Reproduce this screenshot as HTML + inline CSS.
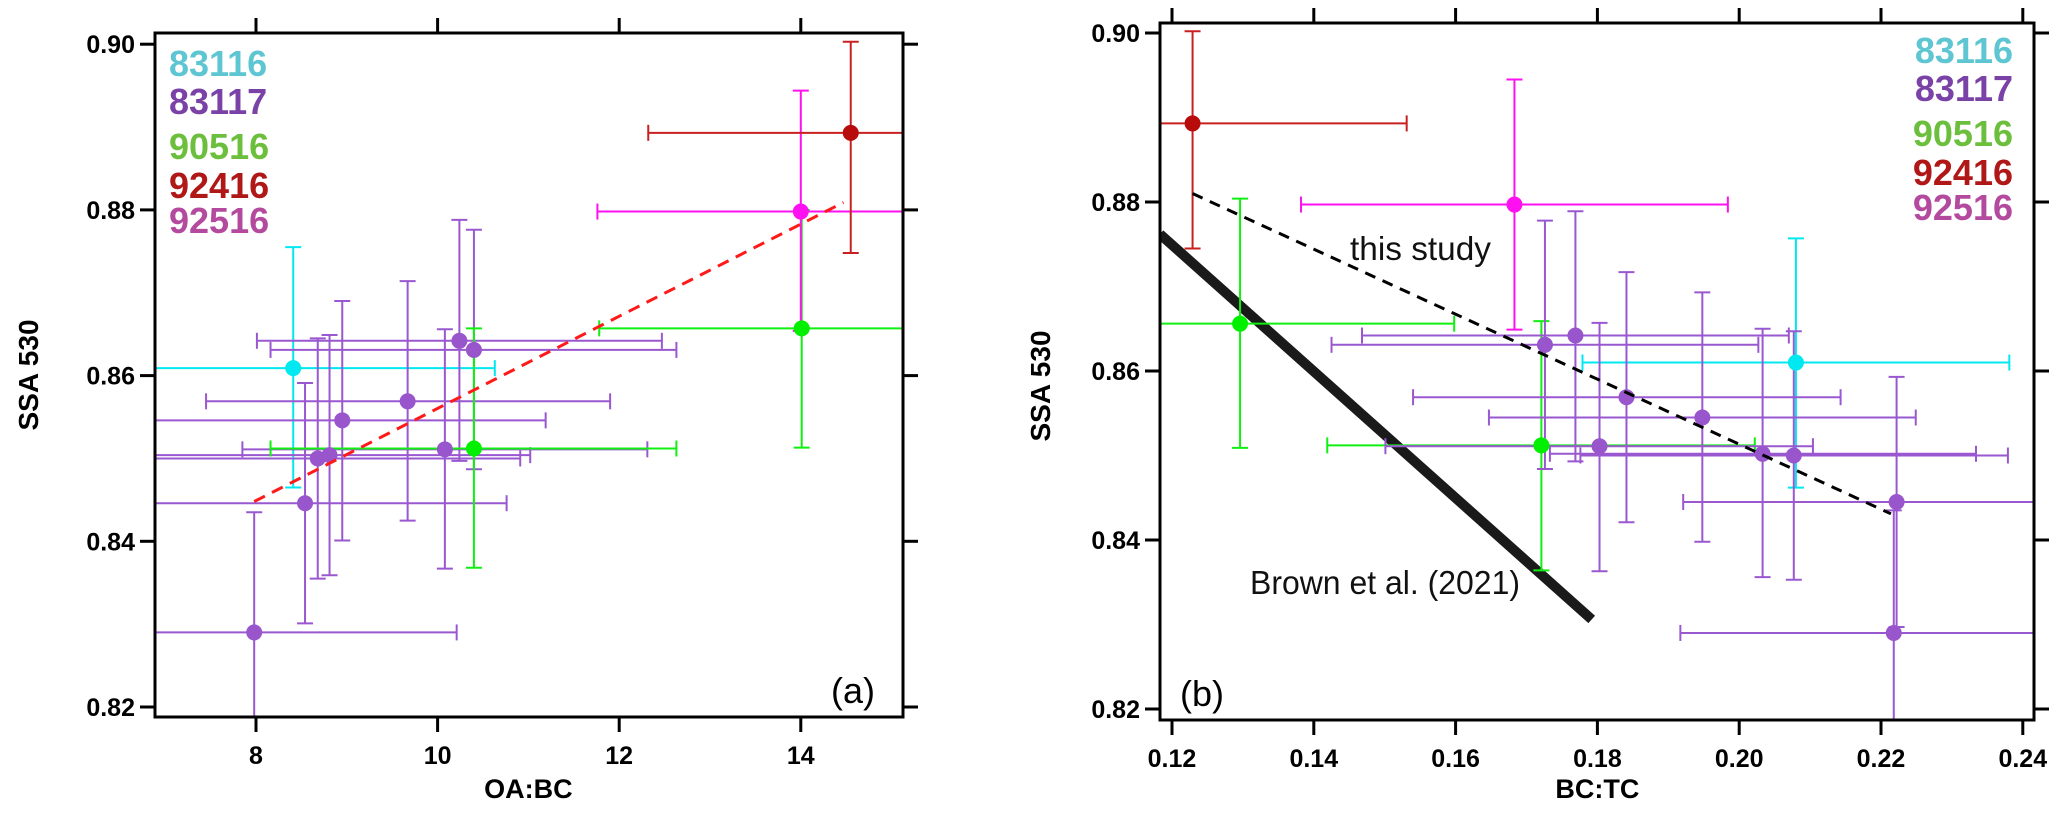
<!DOCTYPE html>
<html><head><meta charset="utf-8"><style>
html,body{margin:0;padding:0;background:#fff;}
svg{display:block;}
</style></head><body>
<svg id="fig" width="2067" height="817" viewBox="0 0 2067 817" xmlns="http://www.w3.org/2000/svg" font-family="Liberation Sans, sans-serif">
<defs>
<clipPath id="clipA"><rect x="155" y="33" width="748" height="685"/></clipPath>
<clipPath id="clipB"><rect x="1160" y="23" width="874" height="697"/></clipPath>
</defs>
<g id="panelA"></g>
<g id="panelB"></g>
</svg>
<script>
// ---- Panel (a) data: OA:BC vs SSA ----
const aGroups = ["83116","83117","83117","83117","83117","83117","83117","83117","83117","83117","90516","90516","92516","92416"];
const aX   = [8.41, 7.98, 8.54, 8.68, 8.81, 8.95, 9.67, 10.08, 10.24, 10.40, 10.40, 14.01, 14.00, 14.55];
const aY   = [0.8609, 0.829, 0.8446, 0.8500, 0.8504, 0.8546, 0.8569, 0.8511, 0.8642, 0.8631, 0.8512, 0.8657, 0.8798, 0.8893];
const aXlo = [6.2, 5.8, 6.3, 6.4, 6.6, 6.7, 7.45, 7.85, 8.01, 8.16, 8.16, 11.78, 11.76, 12.32];
const aXhi = [10.63, 10.21, 10.76, 10.91, 11.02, 11.19, 11.9, 12.31, 12.47, 12.63, 12.63, 16.3, 16.3, 16.8];
const aYlo = [0.8465, 0.8145, 0.8301, 0.8355, 0.8359, 0.8401, 0.8425, 0.8367, 0.8497, 0.8487, 0.8368, 0.8513, 0.8654, 0.8748];
const aYhi = [0.8755, 0.8435, 0.8591, 0.8645, 0.8649, 0.869, 0.8714, 0.8656, 0.8788, 0.8776, 0.8657, 0.880, 0.8944, 0.9003];
const aFitX = [7.98, 14.47];
const aFitY = [0.8448, 0.8809];
const aXTicks = [8, 10, 12, 14];
const aYTicks = [0.82, 0.84, 0.86, 0.88, 0.90];
const aYTickLabels = ["0.82","0.84","0.86","0.88","0.90"];

// ---- Panel (b) data: BC:TC vs SSA ----
const bGroups = ["92416","92516","90516","90516","83116","83117","83117","83117","83117","83117","83117","83117","83117","83117"];
const bX   = [0.1229, 0.1683, 0.1296, 0.1721, 0.2080, 0.1726, 0.1769, 0.1803, 0.1841, 0.1948, 0.2033, 0.2077, 0.2222, 0.2218];
const bY   = [0.8893, 0.8797, 0.8656, 0.8512, 0.8610, 0.8631, 0.8642, 0.8511, 0.8569, 0.8545, 0.8502, 0.8500, 0.8445, 0.8290];
const bXlo = [0.0927, 0.1382, 0.0994, 0.1419, 0.1779, 0.1425, 0.1468, 0.1501, 0.1540, 0.1647, 0.1733, 0.1776, 0.1921, 0.1917];
const bXhi = [0.1531, 0.1984, 0.1598, 0.2022, 0.2381, 0.2027, 0.2070, 0.2104, 0.2143, 0.2249, 0.2334, 0.2379, 0.2523, 0.2519];
const bYlo = [0.8745, 0.8649, 0.8509, 0.8364, 0.8462, 0.8484, 0.8493, 0.8363, 0.8421, 0.8398, 0.8356, 0.8353, 0.8297, 0.8150];
const bYhi = [0.9002, 0.8945, 0.8804, 0.8659, 0.8757, 0.8778, 0.8789, 0.8657, 0.8717, 0.8693, 0.8650, 0.8647, 0.8593, 0.8435];
const bFitX = [0.1229, 0.2214];
const bFitY = [0.8810, 0.8431];
const brownX = [0.1183, 0.1792];
const brownY = [0.8762, 0.8306];
const bXTicks = [0.12, 0.14, 0.16, 0.18, 0.20, 0.22, 0.24];
const bXTickLabels = ["0.12","0.14","0.16","0.18","0.20","0.22","0.24"];
const bYTicks = [0.82, 0.84, 0.86, 0.88, 0.90];
const bYTickLabels = ["0.82","0.84","0.86","0.88","0.90"];

const legendNames = ["83116","83117","90516","92416","92516"];
const legendColors = ["#5ec6d2","#7a42a6","#6cbf3c","#b01818","#b44a9e"];

const ptColor = {"83116":"#00e8f0","83117":"#9955cc","90516":"#00f000","92416":"#b80c0c","92516":"#ff10f0"};
const barColor = {"83116":"#00e8f0","83117":"#9a58d0","90516":"#10f010","92416":"#c82020","92516":"#ff10f0"};

const NS = "http://www.w3.org/2000/svg";
function mk(parent, tag, attrs, text){
  const e = document.createElementNS(NS, tag);
  for (const k in attrs) e.setAttribute(k, attrs[k]);
  if (text !== undefined) e.textContent = text;
  parent.appendChild(e);
  return e;
}

// axis functions
const axA = {x: v => 256 + (v - 8) * 90.8, y: v => 707 - (v - 0.82) * 8285};
const axB = {x: v => 1172 + (v - 0.12) * 7090, y: v => 709 - (v - 0.82) * 8450};

function drawFrame(g, L, T, R, B, xt, xtl, yt, ytl, ax, xlabel, ylabelX, ylabelY, tag){
  const fr = mk(g, "rect", {x:L, y:T, width:R-L, height:B-T, fill:"none", stroke:"#000", "stroke-width":3});
  
  
  xt.forEach((v, i) => {
    const X = ax.x(v);
    const t1 = mk(g, "line", {x1:X, x2:X, y1:T, y2:T-15, stroke:"#000", "stroke-width":3});
    
    
    const t2 = mk(g, "line", {x1:X, x2:X, y1:B, y2:B+15, stroke:"#000", "stroke-width":3});
    
    
    const tl = mk(g, "text", {x:X, y:B+47, "text-anchor":"middle", "font-size":25, "font-weight":"bold", fill:"#000"}, xtl[i]);
    
    
  });
  yt.forEach((v, i) => {
    const Y = ax.y(v);
    const t1 = mk(g, "line", {x1:L, x2:L-15, y1:Y, y2:Y, stroke:"#000", "stroke-width":3});
    
    
    const t2 = mk(g, "line", {x1:R, x2:R+15, y1:Y, y2:Y, stroke:"#000", "stroke-width":3});
    
    
    const tl = mk(g, "text", {x:L-20, y:Y+9, "text-anchor":"end", "font-size":25, "font-weight":"bold", fill:"#000"}, ytl[i]);
    
    
  });
  const xl = mk(g, "text", {x:(ax.x(xt[0]) + ax.x(xt[xt.length-1]))/2, y:798, "text-anchor":"middle", "font-size":27, "font-weight":"bold", fill:"#000"}, xlabel);
  
  
  const yl = mk(g, "text", {x:ylabelX, y:ylabelY, "text-anchor":"middle", "font-size":28, "font-weight":"bold", fill:"#000", transform:`rotate(-90 ${ylabelX} ${ylabelY})`}, "SSA 530");
  
  
}

function drawPoints(g, ax, groups, xs, ys, xlo, xhi, ylo, yhi){
  const cap = 8;
  xs.forEach((xv, i) => {
    const c = barColor[groups[i]];
    const X = ax.x(xv), Y = ax.y(ys[i]);
    const X1 = ax.x(xlo[i]), X2 = ax.x(xhi[i]), Y1 = ax.y(ylo[i]), Y2 = ax.y(yhi[i]);
    const eg = mk(g, "g", {stroke:c, "stroke-width":2, fill:"none"});
    
    
    mk(eg, "line", {x1:X1, x2:X2, y1:Y, y2:Y});
    mk(eg, "line", {x1:X, x2:X, y1:Y1, y2:Y2});
    mk(eg, "line", {x1:X1, x2:X1, y1:Y-cap, y2:Y+cap});
    mk(eg, "line", {x1:X2, x2:X2, y1:Y-cap, y2:Y+cap});
    mk(eg, "line", {x1:X-cap, x2:X+cap, y1:Y1, y2:Y1});
    mk(eg, "line", {x1:X-cap, x2:X+cap, y1:Y2, y2:Y2});
  });
  xs.forEach((xv, i) => {
    const p = mk(g, "circle", {cx:ax.x(xv), cy:ax.y(ys[i]), r:8, fill:ptColor[groups[i]]});
    
    
  });
}

function drawLegend(g, xpos, anchor, ys, tag){
  legendNames.forEach((n, i) => {
    const t = mk(g, "text", {x:xpos, y:ys[i], "text-anchor":anchor, "font-size":36, "font-weight":"bold", fill:legendColors[i]}, n);
    
    
  });
}

// ---- Panel A ----
const gA = document.getElementById("panelA");
const plotA = mk(gA, "g", {"clip-path":"url(#clipA)"});


drawPoints(plotA, axA, aGroups, aX, aY, aXlo, aXhi, aYlo, aYhi);
const fitA = mk(plotA, "line", {x1:axA.x(aFitX[0]), y1:axA.y(aFitY[0]), x2:axA.x(aFitX[1]), y2:axA.y(aFitY[1]), stroke:"#ff1a1a", "stroke-width":3, "stroke-dasharray":"12 8"});


drawFrame(gA, 155, 33, 903, 717, aXTicks, aXTicks.map(String), aYTicks, aYTickLabels, axA, "OA:BC", 38, 375, "a");
drawLegend(gA, 169, "start", [76, 114, 159, 198, 233], "a");
const labA = mk(gA, "text", {x:831, y:703, "font-size":36, fill:"#000"}, "(a)");



// ---- Panel B ----
const gB = document.getElementById("panelB");
const plotB = mk(gB, "g", {"clip-path":"url(#clipB)"});


const brown = mk(plotB, "line", {x1:axB.x(brownX[0]), y1:axB.y(brownY[0]), x2:axB.x(brownX[1]), y2:axB.y(brownY[1]), stroke:"#1a1a1a", "stroke-width":10});


drawPoints(plotB, axB, bGroups, bX, bY, bXlo, bXhi, bYlo, bYhi);
const fitB = mk(plotB, "line", {x1:axB.x(bFitX[0]), y1:axB.y(bFitY[0]), x2:axB.x(bFitX[1]), y2:axB.y(bFitY[1]), stroke:"#000", "stroke-width":3, "stroke-dasharray":"11 8"});


drawFrame(gB, 1160, 23, 2034, 720, bXTicks, bXTickLabels, bYTicks, bYTickLabels, axB, "BC:TC", 1050, 386, "b");
drawLegend(gB, 2013, "end", [63, 101, 146, 185, 220], "b");
const t1 = mk(gB, "text", {x:1350, y:260, "font-size":33, fill:"#111", textLength:141, lengthAdjust:"spacingAndGlyphs"}, "this study");


const t2 = mk(gB, "text", {x:1250, y:594, "font-size":33, fill:"#111", textLength:270, lengthAdjust:"spacingAndGlyphs"}, "Brown et al. (2021)");


const labB = mk(gB, "text", {x:1180, y:706, "font-size":36, fill:"#000"}, "(b)");


</script>
</body></html>
